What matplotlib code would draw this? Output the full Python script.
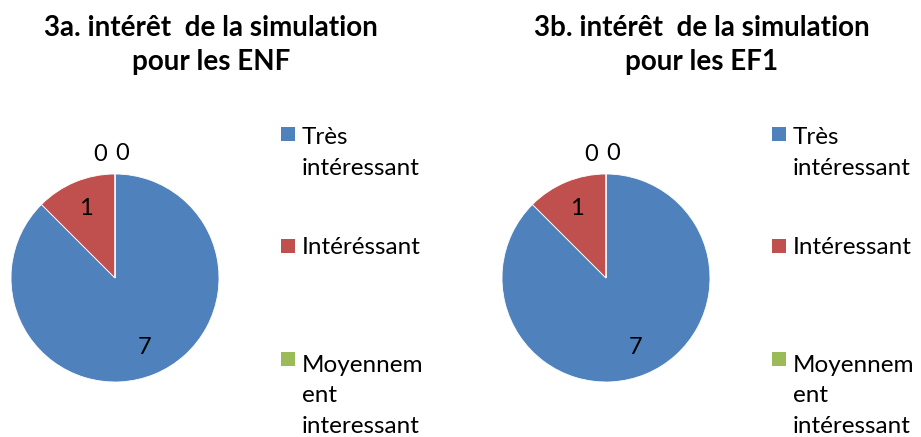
import numpy as np
import matplotlib.pyplot as plt
from matplotlib.patches import Rectangle

plt.rcParams['font.family'] = ['Lato', 'DejaVu Sans']

categories = ['Très\nintéressant', 'Intéréssant', 'Moyennem\nent\ninteressant', 'Peu intéressant']
categories_b = ['Très\nintéressant', 'Intéressant', 'Moyennem\nent\nintéressant', 'Peu intéressant']
values_a = [7, 1, 0, 0]
values_b = [7, 1, 0, 0]
titles = ['3a. intérêt  de la simulation\npour les ENF', '3b. intérêt  de la simulation\npour les EF1']
colors = ['#4F81BD', '#C0504D', '#9BBB59', '#8064A2']

W, H = 921, 437
fig = plt.figure(figsize=(W / 100, H / 100), dpi=100)


def fx(px):
    return px / W


def fy(py):
    return 1 - py / H


def draw(cx, title_x, legend_x, values, labels, title):
    r = 104
    ax = fig.add_axes([fx(cx - r), fy(278 + r), fx(2 * r), 2 * r / H])
    wedges, _ = ax.pie(values, colors=colors, startangle=90, counterclock=False,
                       wedgeprops=dict(edgecolor='white', linewidth=0.6))
    ax.set_xlim(-1, 1)
    ax.set_ylim(-1, 1)
    ax.set_aspect('equal')
    zero_offsets = [-0.14, 0.07]
    zi = 0
    for w, v in zip(wedges, values):
        ang = np.deg2rad((w.theta1 + w.theta2) / 2)
        if v > 0:
            x, y = 0.74 * np.cos(ang), 0.72 * np.sin(ang)
        else:
            x, y = zero_offsets[zi], 1.19 + 0.01 * zi
            zi += 1
        ax.text(x, y, str(v), ha='center', va='center', fontsize=17, color='black')

    fig.text(fx(title_x), fy(45), title, ha='center', va='center', fontsize=20,
             fontweight='bold', linespacing=1.42)

    # baseline of the first line of each legend entry, line pitch 33 px
    baselines = [142, 254, 367]
    for lab, col, by in zip(labels[:3], colors[:3], baselines):
        n = lab.count('\n')
        fig.patches.append(Rectangle((fx(legend_x), fy(by - 1)), fx(14), 14 / H,
                                     transform=fig.transFigure, facecolor=col,
                                     edgecolor='none'))
        fig.text(fx(legend_x + 21), fy(by + 33 * n), lab, ha='left', va='baseline',
                 fontsize=17.5, linespacing=1.56)


draw(115, 211, 281, values_a, categories, titles[0])
draw(606, 702, 772, values_b, categories_b, titles[1])

fig.savefig('out.png', dpi=100, facecolor='white')
